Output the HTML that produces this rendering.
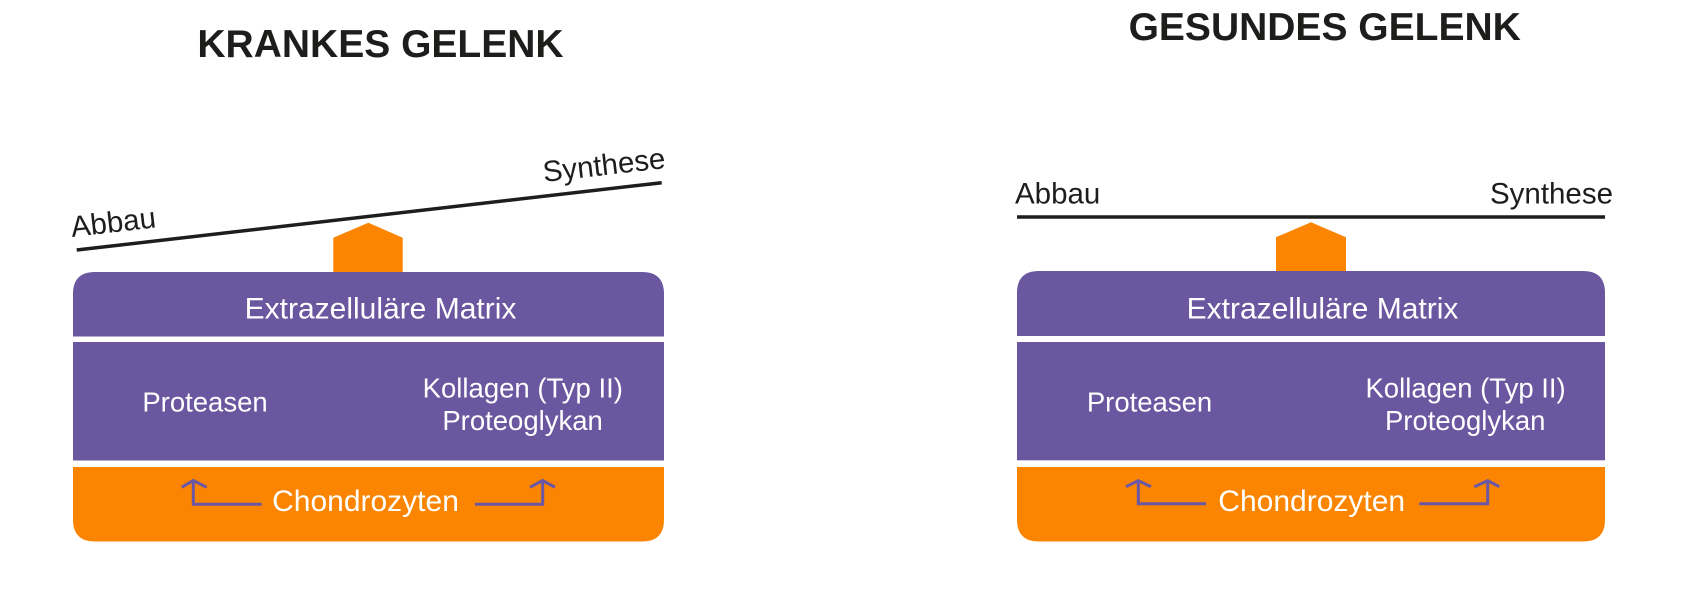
<!DOCTYPE html>
<html>
<head>
<meta charset="utf-8">
<style>
  html, body { margin: 0; padding: 0; background: #ffffff; }
  body { width: 1685px; height: 600px; overflow: hidden; }
  svg { display: block; }
  text { font-family: "Liberation Sans", Arial, sans-serif; }
</style>
</head>
<body>
<svg width="1685" height="600" viewBox="0 0 1685 600" xmlns="http://www.w3.org/2000/svg">
  <!-- ================= LEFT: KRANKES GELENK ================= -->
  <text x="380.5" y="57" font-size="39" font-weight="bold" fill="#1d1d1b" text-anchor="middle">KRANKES GELENK</text>

  <!-- tilted balance line -->
  <line x1="76.7" y1="250" x2="661.7" y2="182.7" stroke="#1d1d1b" stroke-width="3.5"/>
  <text x="72" y="237" font-size="29.5" fill="#1d1d1b" transform="rotate(-6.56 72 237)">Abbau</text>
  <text x="544" y="182" font-size="29.5" fill="#1d1d1b" transform="rotate(-6.56 544 182)">Synthese</text>

  <!-- pivot -->
  <polygon points="333.3,237.7 368.3,222.7 402.7,237.7 402.7,273 333.3,273" fill="#fb8500"/>

  <!-- box -->
  <path d="M73,336.5 L73,294 Q73,272 95,272 L642,272 Q664,272 664,294 L664,336.5 Z" fill="#6b579f"/>
  <rect x="73" y="342" width="591" height="118.5" fill="#6b579f"/>
  <path d="M73,467 L664,467 L664,519.5 Q664,541.5 642,541.5 L95,541.5 Q73,541.5 73,519.5 Z" fill="#fb8500"/>

  <text x="380.5" y="318.3" font-size="30" fill="#ffffff" text-anchor="middle">Extrazelluläre Matrix</text>
  <text x="205" y="411.7" font-size="27.5" fill="#ffffff" text-anchor="middle">Proteasen</text>
  <text x="522.8" y="397.3" font-size="27.5" fill="#ffffff" text-anchor="middle">Kollagen (Typ II)</text>
  <text x="522.6" y="430" font-size="27.5" fill="#ffffff" text-anchor="middle">Proteoglykan</text>
  <text x="365.5" y="511" font-size="30" fill="#ffffff" text-anchor="middle">Chondrozyten</text>

  <!-- arrows -->
  <g fill="none" stroke="#6a58a6" stroke-width="3">
    <path d="M261.7,504.3 L193.3,504.3 L193.3,481"/>
    <path d="M181.7,487.3 L193.3,480.5 L206.7,487.3"/>
    <path d="M475,504.3 L542.7,504.3 L542.7,481"/>
    <path d="M530,487.3 L542.7,480.5 L555,487.3"/>
  </g>

  <!-- ================= RIGHT: GESUNDES GELENK ================= -->
  <text x="1324.7" y="40" font-size="39" font-weight="bold" fill="#1d1d1b" text-anchor="middle">GESUNDES GELENK</text>

  <!-- level balance line -->
  <line x1="1017" y1="217" x2="1605" y2="217" stroke="#1d1d1b" stroke-width="3.5"/>
  <text x="1015" y="203.3" font-size="29.5" fill="#1d1d1b">Abbau</text>
  <text x="1613" y="203.3" font-size="29.5" fill="#1d1d1b" text-anchor="end">Synthese</text>

  <!-- pivot -->
  <polygon points="1276,237.3 1311,222.3 1346,237.3 1346,272 1276,272" fill="#fb8500"/>

  <!-- box -->
  <path d="M1017,336 L1017,293 Q1017,271 1039,271 L1583,271 Q1605,271 1605,293 L1605,336 Z" fill="#6b579f"/>
  <rect x="1017" y="342" width="588" height="118.3" fill="#6b579f"/>
  <path d="M1017,467 L1605,467 L1605,519.5 Q1605,541.5 1583,541.5 L1039,541.5 Q1017,541.5 1017,519.5 Z" fill="#fb8500"/>

  <text x="1322.5" y="318.3" font-size="30" fill="#ffffff" text-anchor="middle">Extrazelluläre Matrix</text>
  <text x="1149.5" y="411.7" font-size="27.5" fill="#ffffff" text-anchor="middle">Proteasen</text>
  <text x="1465.6" y="397.3" font-size="27.5" fill="#ffffff" text-anchor="middle">Kollagen (Typ II)</text>
  <text x="1465.2" y="430" font-size="27.5" fill="#ffffff" text-anchor="middle">Proteoglykan</text>
  <text x="1311.7" y="511" font-size="30" fill="#ffffff" text-anchor="middle">Chondrozyten</text>

  <!-- arrows -->
  <g fill="none" stroke="#6a58a6" stroke-width="3">
    <path d="M1206,503.7 L1138.3,503.7 L1138.3,481.5"/>
    <path d="M1126,486.7 L1138.3,480.7 L1151,486.7"/>
    <path d="M1419.3,503.7 L1487.7,503.7 L1487.7,481.5"/>
    <path d="M1474.3,486.7 L1487.7,480.7 L1499.3,486.7"/>
  </g>
</svg>
</body>
</html>
